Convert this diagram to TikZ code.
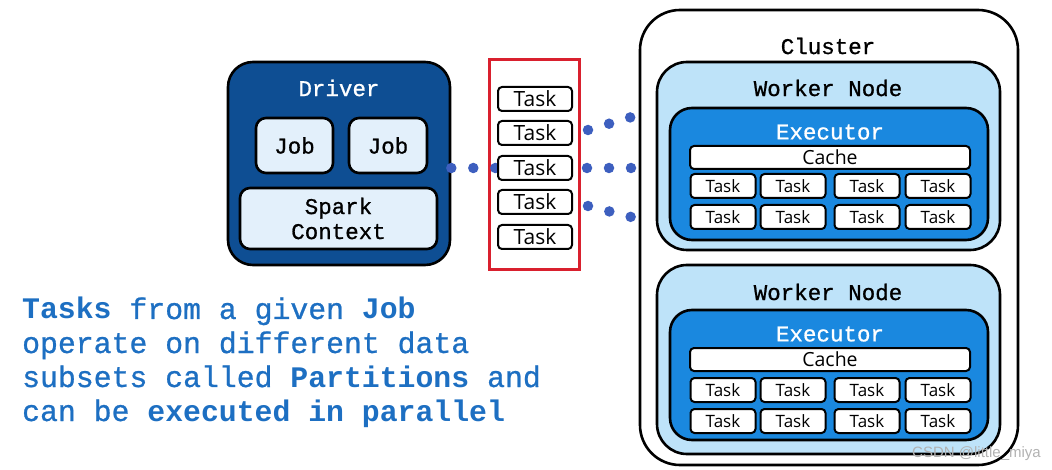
\documentclass[tikz,border=0pt]{standalone}
\usepackage{fontspec}
\setmainfont{Open Sans}
\setmonofont[FakeBold=0.8,BoldFeatures={FakeBold=0}]{Liberation Mono}
\newfontfamily\wmfont{Liberation Sans}
\definecolor{drvblue}{HTML}{0E4E93}
\definecolor{jobfill}{HTML}{E3F0FB}
\definecolor{wfill}{HTML}{BEE3F9}
\definecolor{efill}{HTML}{1A88DF}
\definecolor{txtblue}{HTML}{1D6FC2}
\definecolor{dotblue}{HTML}{3D5FBF}
\definecolor{redb}{HTML}{D9202E}
\begin{document}
\begin{tikzpicture}[x=1pt,y=-1pt,
  panel/.style={draw=black, line width=2.6pt, inner sep=0pt},
  lbl/.style={font=\ttfamily\fontsize{22.5}{26}\selectfont, inner sep=0pt},
  rtask/.style={draw=black, line width=2pt, fill=white, rounded corners=4pt, minimum width=74pt, minimum height=24pt, inner sep=0pt, font=\fontsize{21}{24}\selectfont},
  wtask/.style={draw=black, line width=2pt, fill=white, rounded corners=4pt, minimum width=65pt, minimum height=24pt, inner sep=0pt, font=\fontsize{17}{20}\selectfont},
  cache/.style={draw=black, line width=2pt, fill=white, rounded corners=4pt, minimum width=280pt, minimum height=23pt, inner sep=0pt, font=\fontsize{19.5}{22}\selectfont},
  dots/.style={draw=dotblue, line width=10.5pt, line cap=round, dash pattern=on 0pt off 22pt},
  para/.style={font=\ttfamily\fontsize{29.8}{34}\selectfont, text=txtblue, inner sep=0pt, anchor=base west}
]
\useasboundingbox[fill=white] (0,0) rectangle (1052,470);

% Driver
\node[panel, fill=drvblue, rounded corners=25pt, minimum width=222pt, minimum height=203pt] (drv) at (339,163.5) {};
\node[lbl, text=white] (drvl) at (339,88) {Driver};
\node[panel, fill=jobfill, rounded corners=10pt, minimum width=77pt, minimum height=55pt, lbl] (job1) at (294.5,145.5) {Job};
\node[panel, fill=jobfill, rounded corners=10pt, minimum width=78pt, minimum height=55pt, lbl] (job2) at (388,145.5) {Job};
\node[panel, fill=jobfill, rounded corners=10pt, minimum width=197pt, minimum height=61pt, lbl, align=center] (sc) at (338.5,218.5) {Spark\\[-1pt]Context};

% Task column
\node[draw=redb, line width=3pt, minimum width=90pt, minimum height=210pt, inner sep=0pt] (rb) at (534,165) {};
\coordinate (d1) at (drv.east |- 0,168);
\coordinate (d2) at (498,168);
\draw[dots] (d1) -- (d2);
\node[rtask] (t1) at (535,99) {Task};
\node[rtask] (t2) at (535,133) {Task};
\node[rtask] (t3) at (535,168) {Task};
\node[rtask] (t4) at (535,202) {Task};
\node[rtask] (t5) at (535,237) {Task};

% dots to cluster
\coordinate (s1) at (588,130); \coordinate (e1) at (645,113);
\coordinate (s2) at (587,168); \coordinate (e2) at (645,168);
\coordinate (s3) at (588,206); \coordinate (e3) at (643,220);
\draw[dots] (s1) -- (e1);
\draw[dots] (s2) -- (e2);
\draw[dots] (s3) -- (e3);

% Cluster
\node[panel, fill=white, rounded corners=40pt, minimum width=378pt, minimum height=455pt] (cl) at (829,237.5) {};
\node[lbl] (cll) at (828,46) {Cluster};

% Worker 1
\node[panel, fill=wfill, rounded corners=30pt, minimum width=343pt, minimum height=188pt] (w1) at (828.5,156) {};
\node[lbl] (w1l) at (828,88) {Worker Node};
\node[panel, fill=efill, rounded corners=22pt, minimum width=318pt, minimum height=132pt] (ex1) at (829,174) {};
\node[lbl, text=white] (ex1l) at (830,132) {Executor};
\node[cache] (c1) at (830,157.5) {Cache};
\foreach \x [count=\i] in {723,793,867,938}{
  \node[wtask] (a\i) at (\x,186) {Task};
  \node[wtask] (b\i) at (\x,217) {Task};
}

% Worker 2
\node[panel, fill=wfill, rounded corners=30pt, minimum width=343pt, minimum height=189pt] (w2) at (828.5,359.5) {};
\node[lbl] (w2l) at (828,292) {Worker Node};
\node[panel, fill=efill, rounded corners=22pt, minimum width=318pt, minimum height=130pt] (ex2) at (829,375) {};
\node[lbl, text=white] (ex2l) at (830,334) {Executor};
\node[cache] (c2) at (830,359.5) {Cache};
\foreach \x [count=\i] in {723,793,867,938}{
  \node[wtask] (p\i) at (\x,390) {Task};
  \node[wtask] (q\i) at (\x,421) {Task};
}

% Paragraph
\node[para] (l1) at (22,319) {\textbf{Tasks} from a given \textbf{Job}};
\node[para] (l2) at (22,353) {operate on different data};
\node[para] (l3) at (22,387) {subsets called \textbf{Partitions} and};
\node[para] (l4) at (22,421) {can be \textbf{executed in parallel}};

% watermark
\node[font=\wmfont\fontsize{15}{18}\selectfont, text=gray!60, anchor=base east, inner sep=0pt] (wm) at (1041,457) {CSDN @little\_miya};
\end{tikzpicture}
\end{document}
